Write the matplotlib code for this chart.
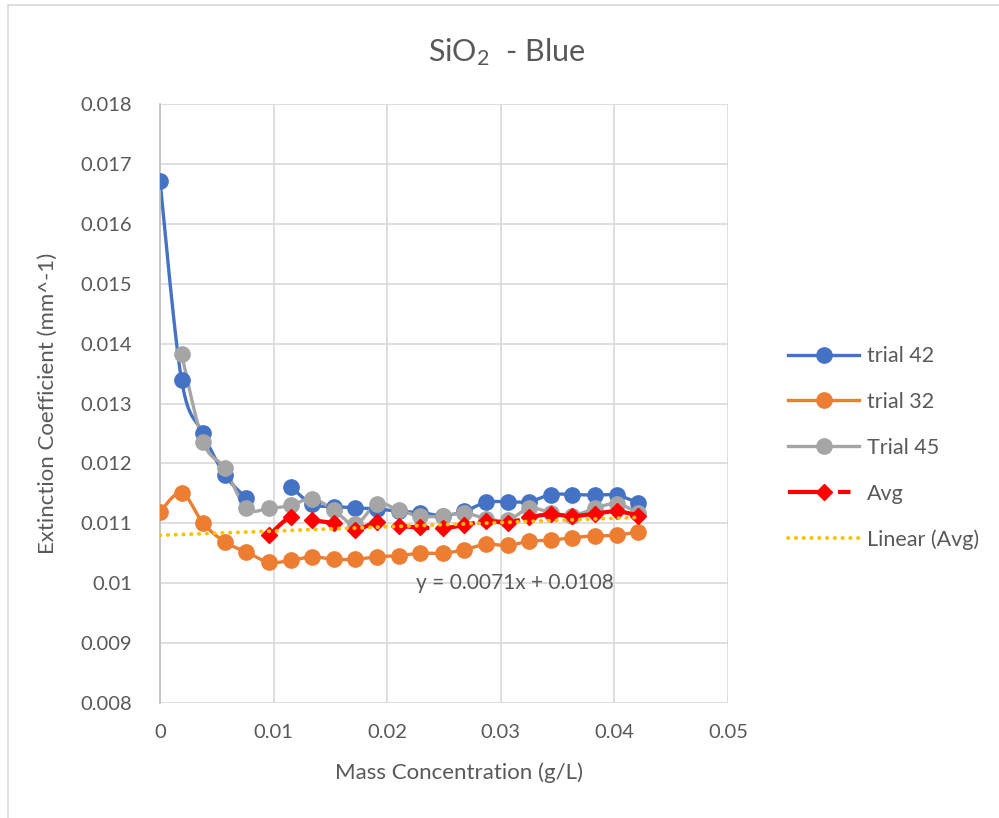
import numpy as np
import matplotlib
matplotlib.use("Agg")
import matplotlib.pyplot as plt
from matplotlib.patches import Rectangle

plt.rcParams["font.family"] = ["Lato", "DejaVu Sans"]
plt.rcParams["mathtext.fontset"] = "custom"
plt.rcParams["mathtext.rm"] = "Lato"
plt.rcParams["mathtext.it"] = "Lato"

# mass concentration (g/L)
conc = [0, 0.0019, 0.0038, 0.0057, 0.0076, 0.0096, 0.0115, 0.0134, 0.0153,
        0.0172, 0.0191, 0.0210, 0.0229, 0.0249, 0.0268, 0.0287, 0.0306,
        0.0325, 0.0344, 0.0363, 0.0383, 0.0402, 0.0421]
nan = np.nan
trial42 = [0.01672, 0.01339, 0.01250, 0.01181, 0.01142, nan, 0.01161, 0.01132,
           0.01128, 0.01126, 0.01124, 0.01120, 0.01118, 0.01113, 0.01120,
           0.01135, 0.01136, 0.01136, 0.01148, 0.01148, 0.01147, 0.01147, 0.01134]
trial32 = [0.01119, 0.01151, 0.01100, 0.01069, 0.01052, 0.01035, 0.01038,
           0.01044, 0.01040, 0.01040, 0.01044, 0.01046, 0.01050, 0.01050,
           0.01056, 0.01065, 0.01063, 0.01070, 0.01072, 0.01076, 0.01079,
           0.01080, 0.01086]
trial45 = [nan, 0.01382, 0.01236, 0.01192, 0.01125, 0.01125, 0.01130, 0.01141,
           0.01122, 0.01098, 0.01133, 0.01122, 0.01112, 0.01112, 0.01117,
           0.01108, 0.01105, 0.01125, 0.01118, 0.01113, 0.01125, 0.01133, 0.01117]
avg = [nan, nan, nan, nan, nan, 0.01080, 0.01110, 0.01105, 0.01100, 0.01089,
       0.01102, 0.01096, 0.01093, 0.01092, 0.01097, 0.01104, 0.01101, 0.01110,
       0.01115, 0.01112, 0.01116, 0.01120, 0.01113]
trend_slope, trend_intercept = 0.0071, 0.0108

x_ticks = [0, 0.01, 0.02, 0.03, 0.04, 0.05]
x_labels = ["0", "0.01", "0.02", "0.03", "0.04", "0.05"]
y_ticks = [0.008, 0.009, 0.010, 0.011, 0.012, 0.013, 0.014, 0.015, 0.016,
           0.017, 0.018]
y_labels = ["0.008", "0.009", "0.01", "0.011", "0.012", "0.013", "0.014",
            "0.015", "0.016", "0.017", "0.018"]

TEXT = "#595959"


def smooth(x, y, n=20):
    """Excel-like smoothed line (Catmull-Rom Bezier), split at gaps."""
    x = np.asarray(x, float)
    y = np.asarray(y, float)
    xs, ys = [], []
    idx = np.where(~np.isnan(y))[0]
    runs = np.split(idx, np.where(np.diff(idx) > 1)[0] + 1)
    for r in runs:
        if len(r) < 2:
            continue
        px, py = x[r], y[r]
        t = np.linspace(0, 1, n)
        for i in range(len(r) - 1):
            p0 = (px[i], py[i])
            p3 = (px[i + 1], py[i + 1])
            pm = (px[i - 1], py[i - 1]) if i > 0 else p0
            pp = (px[i + 2], py[i + 2]) if i + 2 < len(r) else p3
            c1 = (p0[0] + (p3[0] - pm[0]) / 6, p0[1] + (p3[1] - pm[1]) / 6)
            c2 = (p3[0] - (pp[0] - p0[0]) / 6, p3[1] - (pp[1] - p0[1]) / 6)
            for k in range(2):
                b = ((1 - t) ** 3 * p0[k] + 3 * (1 - t) ** 2 * t * c1[k]
                     + 3 * (1 - t) * t ** 2 * c2[k] + t ** 3 * p3[k])
                (xs if k == 0 else ys).append(b)
        xs.append([np.nan])
        ys.append([np.nan])
    return np.concatenate(xs), np.concatenate(ys)


fig = plt.figure(figsize=(9.99, 8.18), dpi=100)
fig.patches.append(Rectangle((8 / 999, -0.1), 1.2, 1 - 5 / 818 + 0.1,
                             transform=fig.transFigure, fill=False,
                             edgecolor="#d9d9d9", lw=1.2))
ax = fig.add_axes([160 / 999, 1 - 703 / 818, 568 / 999, 599 / 818])

series = [
    (trial42, "#4472C4", "trial 42"),
    (trial32, "#ED7D31", "trial 32"),
    (trial45, "#A5A5A5", "Trial 45"),
]
handles = []
for vals, col, lab in series:
    sx, sy = smooth(conc, vals)
    ax.plot(sx, sy, color=col, lw=2.4, solid_capstyle="round", zorder=2)
    ax.plot(conc, vals, ls="none", marker="o", ms=11, color=col, zorder=3)
    h, = ax.plot([], [], color=col, lw=2.4, marker="o", ms=11, label=lab)
    handles.append(h)

sx, sy = smooth(conc, avg)
ax.plot(sx, sy, color="#FF0000", lw=3, ls=(0, (8, 3)), zorder=4)
ax.plot(conc, avg, ls="none", marker="D", ms=8.5, color="#FF0000", zorder=4)
h, = ax.plot([], [], color="#FF0000", lw=3, ls=(0, (9, 3, 3, 3)), marker="D",
             ms=8.5, label="Avg")
handles.append(h)

tx = np.array([conc[0], conc[-1]])
ax.plot(tx, trend_slope * tx + trend_intercept, color="#FFC000", lw=2.8,
        ls=(0, (0.1, 1.9)), dash_capstyle="round", zorder=5)
h, = ax.plot([], [], color="#FFC000", lw=2.8, ls=(0, (0.1, 1.9)),
             dash_capstyle="round", label="Linear (Avg)")
handles.append(h)

ax.text(0.0312, 0.01001, "y = 0.0071x + 0.0108", ha="center", va="center",
        fontsize=15, color=TEXT)

ax.set_xlim(0, 0.05)
ax.set_ylim(0.008, 0.018)
ax.set_xticks(x_ticks)
ax.set_xticklabels(x_labels)
ax.set_yticks(y_ticks)
ax.set_yticklabels(y_labels)
ax.grid(True, color="#d9d9d9", lw=1.2)
ax.set_axisbelow(True)
for s in ["top", "right", "bottom"]:
    ax.spines[s].set_visible(False)
ax.spines["left"].set_color("#bfbfbf")
ax.spines["left"].set_linewidth(1.2)
ax.tick_params(length=0, labelsize=14.5, labelcolor=TEXT)
ax.tick_params(axis="x", pad=15)
ax.tick_params(axis="y", pad=20)

fig.text(0.507, 1 - 52 / 818, "SiO$_2$  - Blue", ha="center", va="center",
         fontsize=22, color=TEXT)
fig.text(459 / 999, 1 - 773 / 818, "Mass Concentration (g/L)", ha="center",
         va="center", fontsize=16, color=TEXT)
fig.text(48 / 999, 1 - 403 / 818, "Extinction Coefficient (mm^-1)",
         ha="center", va="center", rotation=90, fontsize=16, color=TEXT)

fig.legend(handles=handles, loc="center left",
           bbox_to_anchor=(769 / 999, 1 - 448 / 818), frameon=False,
           fontsize=15.5, labelcolor=TEXT, handlelength=3.3, labelspacing=1.2,
           handletextpad=0.35)

fig.savefig("out.png", dpi=100)
